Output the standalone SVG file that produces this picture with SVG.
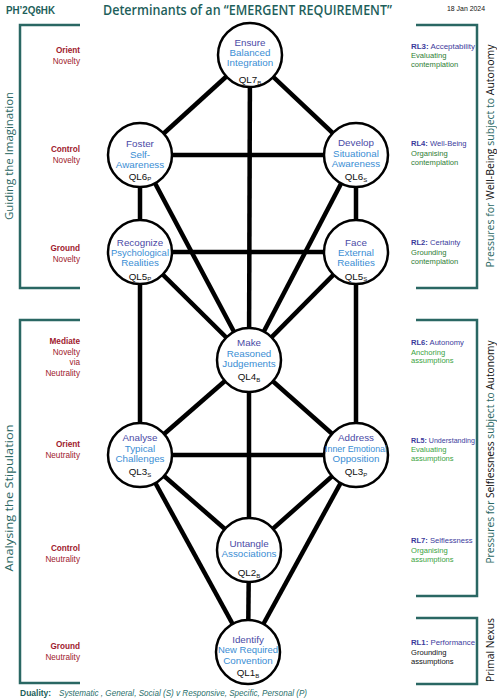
<svg xmlns="http://www.w3.org/2000/svg" width="497" height="700" viewBox="0 0 497 700">
<style>
text{font-family:"Liberation Sans","Open Sans",sans-serif}
.br{fill:none;stroke:#2a6763;stroke-width:2.5}
.con line{stroke:#000;stroke-width:4.5}
.nd circle{fill:#fff;stroke:#000;stroke-width:2.5}
.nd text{font-size:9.8px;text-anchor:middle}
.p{fill:#4a4aa6}
.b{fill:#3a8ed4}
.ql{font-size:8px;fill:#111}
.lab{font-size:8.2px;fill:#9e1a2d;text-anchor:end}
.lab .bd{font-weight:bold}
.rl{font-size:7.6px}
.rlh{fill:#3b3b9c}
.rlh .bd{font-weight:bold}
.g1{fill:#2e7d34}
.g2{fill:#3aa33f}
.side{font-size:11px;fill:#2a6763;font-family:"Open Sans","Liberation Sans",sans-serif}
.k{fill:#111}
</style>
<rect width="497" height="700" fill="#fff"/>
<!-- header -->
<text x="6" y="14" font-size="10.5" font-weight="bold" fill="#1e5f5b" textLength="49" lengthAdjust="spacingAndGlyphs">PH’2Q6HK</text>
<text x="103" y="15" font-size="13.5" font-weight="600" fill="#1e5f5b" style="font-family:'Open Sans','Liberation Sans',sans-serif" textLength="289" lengthAdjust="spacingAndGlyphs">Determinants  of  an “EMERGENT REQUIREMENT”</text>
<text x="447" y="11" font-size="7" fill="#111" textLength="38" lengthAdjust="spacingAndGlyphs">18  Jan 2024</text>
<!-- brackets -->
<g id="brackets">
<polyline class="br" points="80,25 20,25 20,288 80,288"/>
<polyline class="br" points="80,320 20,320 20,683 80,683"/>
<polyline class="br" points="416,25 477,25 477,288 416,288"/>
<polyline class="br" points="416,320 477,320 477,596 416,596"/>
<polyline class="br" points="416,618 477,618 477,684 416,684"/>
</g>
<!-- side titles -->
<text class="side" transform="translate(13,156) rotate(-90)" text-anchor="middle" textLength="128" lengthAdjust="spacingAndGlyphs">Guiding  the Imagination</text>
<text class="side" transform="translate(13,498) rotate(-90)" text-anchor="middle" textLength="147" lengthAdjust="spacingAndGlyphs">Analysing  the  Stipulation</text>
<text class="side" transform="translate(494,156) rotate(-90)" text-anchor="middle" textLength="223" lengthAdjust="spacingAndGlyphs">Pressures for <tspan class="k">Well-Being</tspan> subject to <tspan class="k">Autonomy</tspan></text>
<text class="side" transform="translate(494,452) rotate(-90)" text-anchor="middle" textLength="223" lengthAdjust="spacingAndGlyphs">Pressures for <tspan class="k">Selflessness</tspan> subject to <tspan class="k">Autonomy</tspan></text>
<text class="side k" transform="translate(494,650) rotate(-90)" text-anchor="middle" textLength="64" lengthAdjust="spacingAndGlyphs">Primal Nexus</text>
<!-- left labels -->
<g id="left-labels">
<text class="lab" x="80" y="53"><tspan class="bd">Orient</tspan><tspan x="80" dy="11">Novelty</tspan></text>
<text class="lab" x="80" y="152"><tspan class="bd">Control</tspan><tspan x="80" dy="11">Novelty</tspan></text>
<text class="lab" x="80" y="251"><tspan class="bd">Ground</tspan><tspan x="80" dy="11">Novelty</tspan></text>
<text class="lab" x="80" y="344"><tspan class="bd">Mediate</tspan><tspan x="80" dy="10.5">Novelty</tspan><tspan x="80" dy="10.5">via</tspan><tspan x="80" dy="10.5">Neutrality</tspan></text>
<text class="lab" x="80" y="447"><tspan class="bd">Orient</tspan><tspan x="80" dy="11">Neutrality</tspan></text>
<text class="lab" x="80" y="551"><tspan class="bd">Control</tspan><tspan x="80" dy="10.5">Neutrality</tspan></text>
<text class="lab" x="80" y="649"><tspan class="bd">Ground</tspan><tspan x="80" dy="10.5">Neutrality</tspan></text>
</g>
<!-- right labels -->
<g id="right-labels" class="rl">
<text class="rlh" x="411" y="49" textLength="64" lengthAdjust="spacingAndGlyphs"><tspan class="bd">RL3:</tspan> Acceptability</text>
<text class="g1" x="411" y="58">Evaluating</text>
<text class="g1" x="411" y="66.5">contemplation</text>
<text class="rlh" x="411" y="146"><tspan class="bd">RL4:</tspan> Well-Being</text>
<text class="g1" x="411" y="156">Organising</text>
<text class="g1" x="411" y="164.5">contemplation</text>
<text class="rlh" x="411" y="245"><tspan class="bd">RL2:</tspan> Certainty</text>
<text class="g1" x="411" y="255">Grounding</text>
<text class="g1" x="411" y="263.5">contemplation</text>
<text class="rlh" x="411" y="345"><tspan class="bd">RL6:</tspan> Autonomy</text>
<text class="g2" x="411" y="355">Anchoring</text>
<text class="g2" x="411" y="362.5">assumptions</text>
<text class="rlh" x="411" y="443" textLength="64" lengthAdjust="spacingAndGlyphs"><tspan class="bd">RL5:</tspan> Understanding</text>
<text class="g2" x="411" y="452">Evaluating</text>
<text class="g2" x="411" y="460.5">assumptions</text>
<text class="rlh" x="411" y="543"><tspan class="bd">RL7:</tspan> Selflessness</text>
<text class="g2" x="411" y="553">Organising</text>
<text class="g2" x="411" y="561.5">assumptions</text>
<text class="rlh" x="411" y="645" textLength="64" lengthAdjust="spacingAndGlyphs"><tspan class="bd">RL1:</tspan> Performance</text>
<text class="k" x="411" y="655">Grounding</text>
<text class="k" x="411" y="663.5">assumptions</text>
</g>
<!-- connectors -->
<g id="connectors" class="con">
<line x1="250" y1="55" x2="140" y2="155"/>
<line x1="250" y1="55" x2="356" y2="155"/>
<line x1="250" y1="55" x2="249" y2="360"/>
<line x1="140" y1="155" x2="356" y2="155"/>
<line x1="140" y1="155" x2="140" y2="252"/>
<line x1="356" y1="155" x2="356" y2="252"/>
<line x1="140" y1="155" x2="249" y2="360"/>
<line x1="356" y1="155" x2="249" y2="360"/>
<line x1="140" y1="252" x2="356" y2="252"/>
<line x1="140" y1="252" x2="249" y2="360"/>
<line x1="356" y1="252" x2="249" y2="360"/>
<line x1="140" y1="252" x2="140" y2="455"/>
<line x1="356" y1="252" x2="356" y2="455"/>
<line x1="249" y1="360" x2="140" y2="455"/>
<line x1="249" y1="360" x2="356" y2="455"/>
<line x1="249" y1="360" x2="249" y2="550"/>
<line x1="140" y1="455" x2="356" y2="455"/>
<line x1="140" y1="455" x2="249" y2="550"/>
<line x1="356" y1="455" x2="249" y2="550"/>
<line x1="140" y1="455" x2="248" y2="652"/>
<line x1="356" y1="455" x2="248" y2="652"/>
<line x1="249" y1="550" x2="248" y2="652"/>
</g>
<!-- nodes -->
<g id="QL7" class="nd"><circle cx="250" cy="55" r="32"/>
<text class="p" x="250" y="46">Ensure</text><text class="b" x="250" y="56">Balanced</text><text class="b" x="250" y="66">Integration</text>
<text class="ql" x="250" y="83">QL7<tspan font-size="6" dy="2">B</tspan></text></g>
<g id="QL6P" class="nd"><circle cx="140" cy="155" r="32"/>
<text class="p" x="140" y="147">Foster</text><text class="b" x="140" y="158">Self-</text><text class="b" x="140" y="168">Awareness</text>
<text class="ql" x="140" y="180">QL6<tspan font-size="6" dy="1">P</tspan></text></g>
<g id="QL6S" class="nd"><circle cx="356" cy="155" r="32"/>
<text class="p" x="356" y="146">Develop</text><text class="b" x="356" y="157">Situational</text><text class="b" x="356" y="167">Awareness</text>
<text class="ql" x="356" y="180">QL6<tspan font-size="6" dy="2">S</tspan></text></g>
<g id="QL5P" class="nd"><circle cx="140" cy="252" r="32"/>
<text class="p" x="140" y="246">Recognize</text><text class="b" x="140" y="256" textLength="58" lengthAdjust="spacingAndGlyphs">Psychological</text><text class="b" x="140" y="266">Realities</text>
<text class="ql" x="140" y="280">QL5<tspan font-size="6" dy="1">P</tspan></text></g>
<g id="QL5S" class="nd"><circle cx="356" cy="252" r="32"/>
<text class="p" x="356" y="246">Face</text><text class="b" x="356" y="256">External</text><text class="b" x="356" y="266">Realities</text>
<text class="ql" x="356" y="280">QL5<tspan font-size="6" dy="1">S</tspan></text></g>
<g id="QL4" class="nd"><circle cx="249" cy="360" r="32"/>
<text class="p" x="249" y="346">Make</text><text class="b" x="249" y="357">Reasoned</text><text class="b" x="249" y="367">Judgements</text>
<text class="ql" x="249" y="380">QL4<tspan font-size="6" dy="2">B</tspan></text></g>
<g id="QL3S" class="nd"><circle cx="140" cy="455" r="32"/>
<text class="p" x="140" y="441">Analyse</text><text class="b" x="140" y="452">Typical</text><text class="b" x="140" y="462">Challenges</text>
<text class="ql" x="140" y="475">QL3<tspan font-size="6" dy="2">S</tspan></text></g>
<g id="QL3P" class="nd"><circle cx="356" cy="455" r="32"/>
<text class="p" x="356" y="441">Address</text><text class="b" x="356" y="452" textLength="62" lengthAdjust="spacingAndGlyphs">Inner Emotional</text><text class="b" x="356" y="462">Opposition</text>
<text class="ql" x="356" y="475">QL3<tspan font-size="6" dy="2">P</tspan></text></g>
<g id="QL2" class="nd"><circle cx="249" cy="550" r="32"/>
<text class="p" x="249" y="547">Untangle</text><text class="b" x="249" y="557">Associations</text>
<text class="ql" x="249" y="576">QL2<tspan font-size="6" dy="2">B</tspan></text></g>
<g id="QL1" class="nd"><circle cx="248" cy="652" r="32"/>
<text class="p" x="248" y="643">Identify</text><text class="b" x="248" y="653" textLength="60" lengthAdjust="spacingAndGlyphs">New Required</text><text class="b" x="248" y="664">Convention</text>
<text class="ql" x="248" y="676">QL1<tspan font-size="6" dy="2">B</tspan></text></g>
<!-- footer -->
<text x="20" y="696" font-size="8.5" font-weight="bold" fill="#1e5f5b">Duality:</text>
<text x="59" y="696" font-size="8.5" font-style="italic" fill="#2a6f6b" textLength="248" lengthAdjust="spacingAndGlyphs">Systematic , General, Social (S)  v   Responsive, Specific, Personal (P)</text>
</svg>
